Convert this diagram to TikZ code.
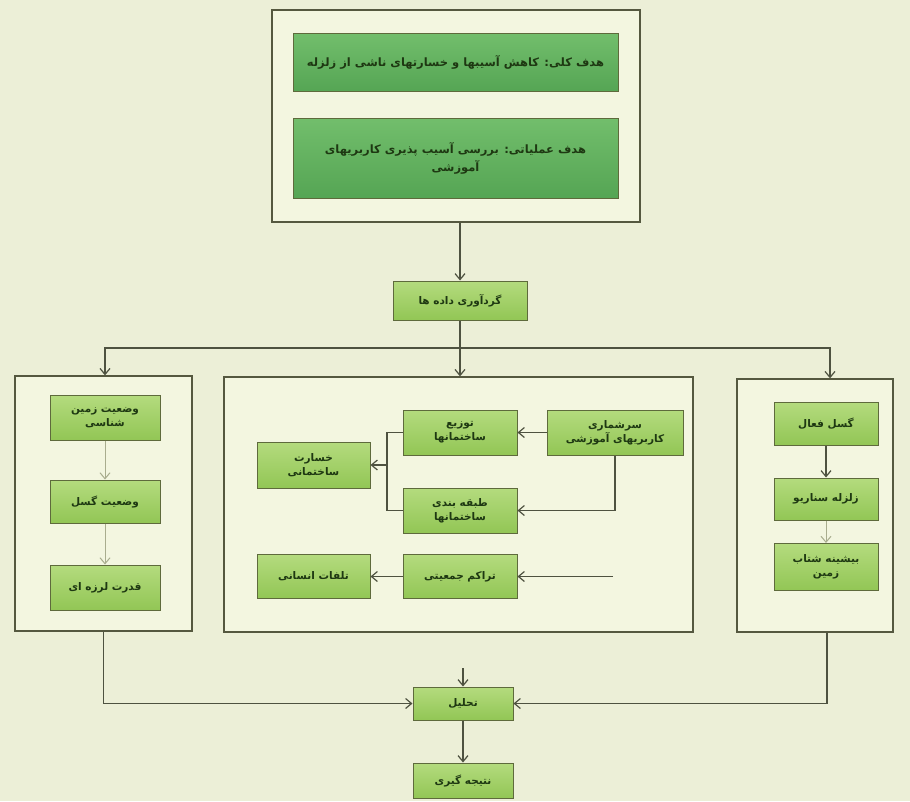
\documentclass[tikz,border=0pt]{standalone}
\usepackage{fontspec}
\usetikzlibrary{arrows.meta,calc}
\TeXXeTstate=1
\newfontfamily\arabicfont[Script=Arabic]{DejaVu Sans}
\newcommand{\fa}[1]{{\arabicfont\bfseries\beginR #1\endR}}
\definecolor{bgc}{HTML}{ECEFD7}
\definecolor{panelc}{HTML}{F3F6E0}
\definecolor{framec}{HTML}{55583F}
\definecolor{gborder}{HTML}{5E6A3C}
\definecolor{lgtop}{HTML}{B4DB7E}
\definecolor{lgbot}{HTML}{92C655}
\definecolor{dgtop}{HTML}{72BE6C}
\definecolor{dgbot}{HTML}{55A554}
\definecolor{txt}{HTML}{1E3812}
\definecolor{linec}{HTML}{4E5240}
\definecolor{faintc}{HTML}{A9AD8E}
\tikzset{
  panel/.style={draw=framec, line width=1.3pt, fill=panelc, inner sep=0pt},
  gbox/.style={draw=gborder, line width=1pt, top color=lgtop, bottom color=lgbot,
    text=txt, font=\fontsize{10.5}{14}\selectfont, align=center, inner sep=2pt},
  dbox/.style={draw=gborder, line width=1pt, top color=dgtop, bottom color=dgbot,
    text=txt, font=\fontsize{11.5}{18}\selectfont, align=center, inner sep=2pt},
  conn/.style={draw=linec, line width=1.2pt},
  arr/.style={conn, -{Straight Barb[length=6pt,width=10pt]}},
  farr/.style={draw=faintc, line width=1pt, -{Straight Barb[length=6pt,width=10pt]}}
}
\begin{document}
\begin{tikzpicture}[x=1pt,y=-1pt]
\useasboundingbox[fill=bgc] (0,0) rectangle (910,801);

% top frame
\node[panel, minimum width=368pt, minimum height=212pt] (top) at (456,116) {};
\node[dbox, minimum width=325pt, minimum height=58pt] (goal1) at (455.5,62.5)
  {\fa{هدف کلی: کاهش آسیبها و خسارتهای ناشی از زلزله}};
\node[dbox, minimum width=325pt, minimum height=80pt] (goal2) at (455.5,158)
  {\fa{هدف عملیاتی: بررسی آسیب پذیری کاربریهای}\\\fa{آموزشی}};

% data collection
\node[gbox, minimum width=134pt, minimum height=39pt] (data) at (460,300.5)
  {\fa{گردآوری داده ها}};

% panels
\node[panel, minimum width=177pt, minimum height=255pt] (left) at (103.5,503.5) {};
\node[panel, minimum width=469pt, minimum height=255pt] (mid) at (458.5,504.5) {};
\node[panel, minimum width=156pt, minimum height=253pt] (right) at (815,505.5) {};

% left panel boxes
\node[gbox, minimum width=110pt, minimum height=45pt] (la) at (105,417.5)
  {\fa{وضعیت زمین}\\\fa{شناسی}};
\node[gbox, minimum width=110pt, minimum height=43pt] (lb) at (105,501.5)
  {\fa{وضعیت گسل}};
\node[gbox, minimum width=110pt, minimum height=45pt] (lc) at (105,587.5)
  {\fa{قدرت لرزه ای}};

% middle panel boxes
\node[gbox, minimum width=136pt, minimum height=45pt] (census) at (615,432.5)
  {\fa{سرشماری}\\\fa{کاربریهای آموزشی}};
\node[gbox, minimum width=114pt, minimum height=45pt] (dist) at (460,432.5)
  {\fa{توزیع}\\\fa{ساختمانها}};
\node[gbox, minimum width=114pt, minimum height=45pt] (class) at (460,510.5)
  {\fa{طبقه بندی}\\\fa{ساختمانها}};
\node[gbox, minimum width=113pt, minimum height=46pt] (dmg) at (313.5,465)
  {\fa{خسارت}\\\fa{ساختمانی}};
\node[gbox, minimum width=114pt, minimum height=44pt] (dens) at (460,576.5)
  {\fa{تراکم جمعیتی}};
\node[gbox, minimum width=113pt, minimum height=44pt] (cas) at (313.5,576.5)
  {\fa{تلفات انسانی}};

% right panel boxes
\node[gbox, minimum width=104pt, minimum height=43pt] (fault) at (826,423.5)
  {\fa{گسل فعال}};
\node[gbox, minimum width=104pt, minimum height=42pt] (scen) at (826,499)
  {\fa{زلزله سناریو}};
\node[gbox, minimum width=104pt, minimum height=47pt] (pga) at (826,567)
  {\fa{بیشینه شتاب}\\\fa{زمین}};

% bottom boxes
\node[gbox, minimum width=100pt, minimum height=33pt] (ana) at (463,703.5)
  {\fa{تحلیل}};
\node[gbox, minimum width=100pt, minimum height=35pt] (concl) at (463,780.5)
  {\fa{نتیجه گیری}};

% connectors: top part
\draw[arr] (data.north |- top.south) -- (data.north);
\coordinate (hl) at (460,348);
\coordinate (lj) at (105,348);
\coordinate (rj) at (830,348);
\draw[conn] (data.south) -- (hl);
\draw[arr] (hl) -- (hl |- mid.north);
\draw[arr] (hl) -- (lj) -- (lj |- left.north);
\draw[arr] (hl) -- (rj) -- (rj |- right.north);

% left panel
\draw[farr] (la.south) -- (lb.north);
\draw[farr] (lb.south) -- (lc.north);

% right panel
\draw[arr] (fault.south) -- (scen.north);
\draw[farr] (scen.south) -- (pga.north);

% middle panel
\draw[arr] (census.west) -- (dist.east);
\draw[arr] (census.south) |- (class.east);
\coordinate (bx) at (387,465);
\draw[conn] (dist.west) -| (bx) |- (class.west);
\draw[arr] (bx) -- (dmg.east);
\coordinate (densin) at (613,576.5);
\draw[arr] (densin) -- (dens.east);
\draw[arr] (dens.west) -- (cas.east);

% bottom
\draw[arr] (left.south) |- (ana.west);
\draw[arr] ([xshift=12pt]right.south) |- (ana.east);
\coordinate (stub) at (463,668);
\draw[arr] (stub) -- (ana.north);
\draw[arr] (ana.south) -- (concl.north);
\end{tikzpicture}
\end{document}
